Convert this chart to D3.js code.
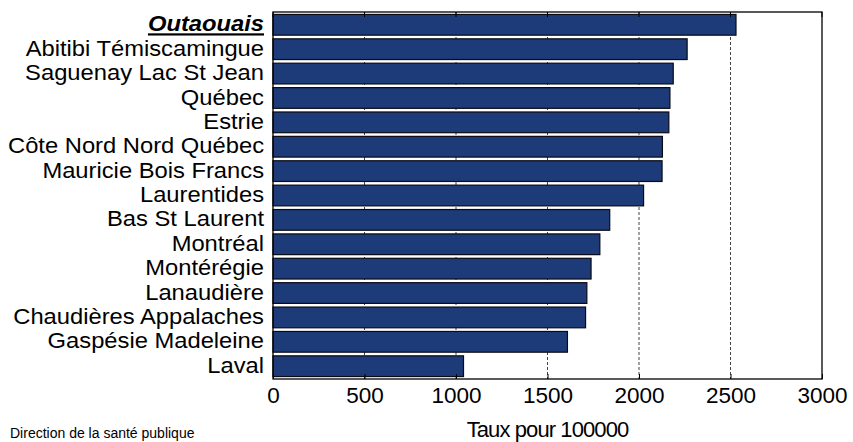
<!DOCTYPE html>
<html><head><meta charset="utf-8">
<script src="https://cdn.jsdelivr.net/npm/d3@7"></script>
<style>body{margin:0;background:#fff}svg{display:block}text{font-family:"Liberation Sans",Arial,sans-serif;fill:#000}</style>
</head><body><svg id="c" width="853" height="442"></svg>
<script>
const regions = ["Outaouais","Abitibi Témiscamingue","Saguenay Lac St Jean","Québec","Estrie","Côte Nord Nord Québec","Mauricie Bois Francs","Laurentides","Bas St Laurent","Montréal","Montérégie","Lanaudière","Chaudières Appalaches","Gaspésie Madeleine","Laval"];
const rates = [2530,2263,2187,2169,2163,2128,2126,2025,1840,1786,1738,1715,1708,1609,1041];
const tickValues = [0,500,1000,1500,2000,2500,3000];
const xTitle = "Taux pour 100000";
const footer = "Direction de la santé publique";

const svg = d3.select("#c");
const L=273, R=822, T=12, B=379;
const x = d3.scaleLinear().domain([0,3000]).range([L,R]);
const y = d3.scaleBand().domain(regions).range([T,B]).paddingInner(0.15).paddingOuter(0.1);

// gridlines
svg.append("g").selectAll("line").data(tickValues.slice(1,-1)).join("line")
  .attr("x1",d=>x(d)).attr("x2",d=>x(d)).attr("y1",T).attr("y2",B)
  .attr("stroke","#444").attr("stroke-width",1).attr("stroke-dasharray","3,2");

// bars
svg.append("g").selectAll("rect").data(regions).join("rect")
  .attr("x",x(0)).attr("y",d=>y(d)).attr("width",(d,i)=>x(rates[i])-x(0)).attr("height",y.bandwidth())
  .attr("fill","#1c3b78").attr("stroke","#0a0a14").attr("stroke-width",1.2);

// frame
svg.append("rect").attr("x",L).attr("y",T).attr("width",R-L).attr("height",B-T)
  .attr("fill","none").attr("stroke","#000").attr("stroke-width",1.3);

// x axis
const ax = svg.append("g").attr("transform",`translate(0,${B})`)
  .call(d3.axisBottom(x).tickValues(tickValues).tickSize(-5).tickPadding(9).tickFormat(d3.format("d")));
ax.select(".domain").remove();
ax.selectAll(".tick line").attr("stroke","#000");
ax.selectAll("text").attr("font-size","22.5px").attr("font-family","Liberation Sans, Arial, sans-serif").attr("fill","#000").attr("dy","0.68em");
// top ticks
svg.append("g").selectAll("line").data(tickValues).join("line")
  .attr("x1",d=>x(d)).attr("x2",d=>x(d)).attr("y1",T).attr("y2",T+5).attr("stroke","#000");

// y labels
svg.append("g").selectAll("text").data(regions).join("text")
  .attr("transform",d=>`translate(264,${y(d)+y.bandwidth()/2}) scale(1.08,1)`)
  .attr("dy","0.3em")
  .attr("text-anchor","end").attr("font-size","22px")
  .attr("font-weight",(d,i)=>i===0?"bold":"normal")
  .attr("font-style",(d,i)=>i===0?"italic":"normal")
  .attr("text-decoration",(d,i)=>i===0?"underline":"none")
  .text(d=>d);

svg.append("text").attr("x",(L+R)/2).attr("y",437).attr("text-anchor","middle").attr("font-size","22px").attr("letter-spacing","-0.9px").text(xTitle);
svg.append("text").attr("x",10).attr("y",438).attr("font-size","14px").text(footer);
</script></body></html>
